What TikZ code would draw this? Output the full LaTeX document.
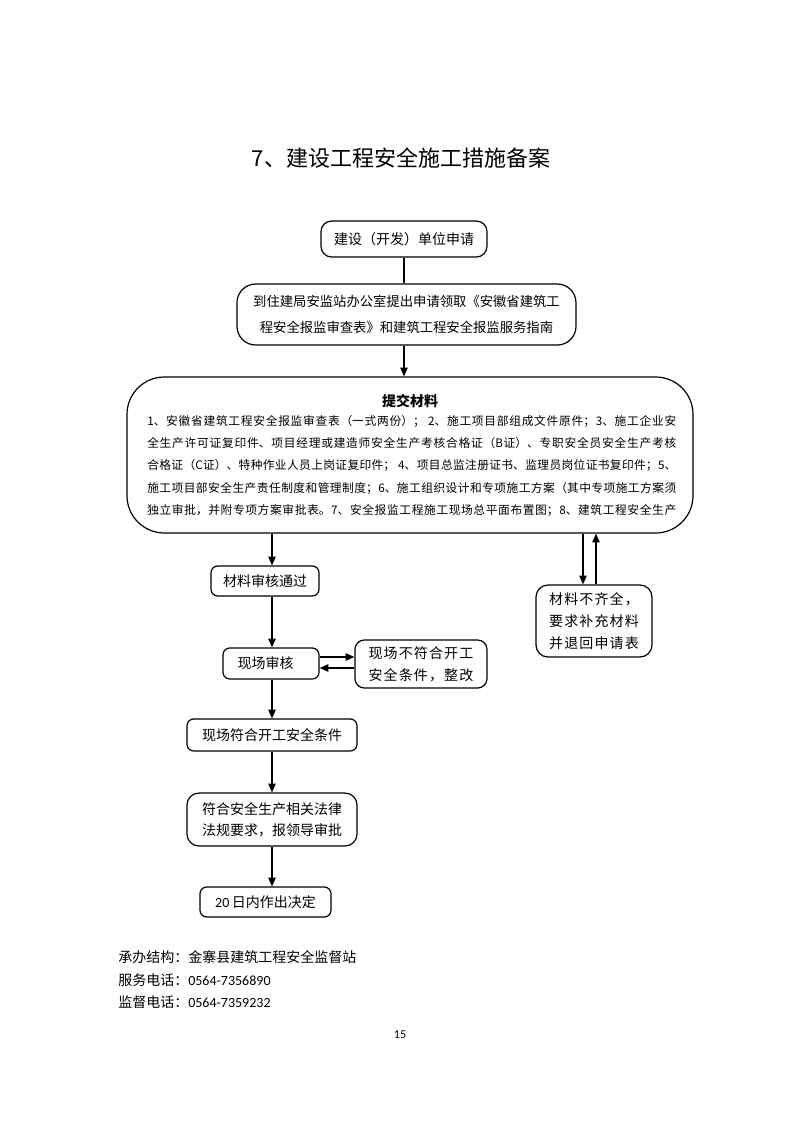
\documentclass[tikz,border=0pt]{standalone}
\usepackage{fontspec}
\setmainfont{Noto Sans CJK SC}
\newfontfamily\latinf{Carlito}
\newfontfamily\spaced[LetterSpace=8]{Noto Sans CJK SC}
\usetikzlibrary{arrows.meta}
\XeTeXlinebreaklocale "zh"
\XeTeXlinebreakskip=0pt plus 1pt
\tikzset{
  box/.style={draw, line width=0.9pt, rounded corners=5pt, inner sep=0pt, align=center,
    font=\fontsize{10.5}{16.5}\selectfont},
  arr/.style={line width=0.9pt, -{Triangle[length=6.5pt,width=5.5pt]}},
  ln/.style={line width=0.9pt},
  txt/.style={inner sep=0pt, font=\fontsize{10.5}{16.5}\selectfont}
}
\begin{document}
\begin{tikzpicture}[x=0.75pt,y=-0.75pt]
\useasboundingbox (0,0) rectangle (793,1122);
% title
\node[inner sep=0pt, font=\fontsize{16.5}{20}\selectfont] (title) at (401,158) {7、建设工程安全施工措施备案};
% boxes
\node[box, rounded corners=8pt, minimum width=124.5pt, minimum height=27pt] (b1) at (404,239) {建设（开发）单位申请};
\node[box, rounded corners=14pt, minimum width=254.25pt, minimum height=45.75pt,
  font=\fontsize{10}{19}\selectfont] (b2) at (406.5,314.5)
  {到住建局安监站办公室提出申请领取《安徽省建筑工\\程安全报监审查表》和建筑工程安全报监服务指南};
\node[draw, ln, rounded corners=28pt, minimum width=424.5pt, minimum height=117pt, inner sep=0pt] (b3) at (410,455) {};
\node[txt, font=\fontsize{10.5}{14}\selectfont\bfseries] (b3t) at (410,401) {提交材料};
\node[inner sep=0pt, anchor=base west, font=\fontsize{8.8}{16.8}\selectfont] (b3b) at (147,425)
  {\parbox[t]{396.75pt}{\parfillskip=0pt
  1、安徽省建筑工程安全报监审查表（一式两份）； 2、施工项目部组成文件原件；3、施工企业安\linebreak
  全生产许可证复印件、项目经理或建造师安全生产考核合格证（B证）、专职安全员安全生产考核\linebreak
  合格证（C证）、特种作业人员上岗证复印件； 4、项目总监注册证书、监理员岗位证书复印件；5、\linebreak
  施工项目部安全生产责任制度和管理制度；6、施工组织设计和专项施工方案（其中专项施工方案须\linebreak
  独立审批，并附专项方案审批表。7、安全报监工程施工现场总平面布置图；8、建筑工程安全生产\par}};
\node[box, minimum width=81pt, minimum height=22.5pt] (b4) at (265,581) {材料审核通过};
\node[box, rounded corners=9pt, minimum width=87pt, minimum height=54pt, align=left,
  font=\spaced\fontsize{10.5}{16.5}\selectfont] (b5) at (594,621)
  {材料不齐全，\\要求补充材料\\并退回申请表};
\node[box, minimum width=72pt, minimum height=23.25pt] (b6) at (271,663.5) {现场审核\hspace{8pt}};
\node[box, rounded corners=7pt, minimum width=99pt, minimum height=36pt, align=left,
  font=\spaced\fontsize{10.5}{16.5}\selectfont] (b7) at (421,664)
  {现场不符合开工\\安全条件，整改};
\node[box, minimum width=127.5pt, minimum height=24pt] (b8) at (272,735) {现场符合开工安全条件};
\node[box, rounded corners=9pt, minimum width=127.5pt, minimum height=39.75pt,
  font=\fontsize{10.5}{15.5}\selectfont] (b9) at (272,819.5)
  {符合安全生产相关法律\\法规要求，报领导审批};
\node[box, minimum width=98.25pt, minimum height=22.5pt] (b10) at (265.5,902) {{\latinf 20}\,日内作出决定};
% connectors
\coordinate (colx) at (272,0);
\coordinate (dx) at (583,0);
\coordinate (ux) at (596,0);
\coordinate (ya) at (0,657);
\coordinate (yb) at (0,668);
\draw[ln] (b1.south) -- (b1.south |- b2.north);
\draw[arr] (b2.south -| b1.south) -- (b3.north -| b1.south);
\draw[arr] (b3.south -| colx) -- (b4.north -| colx);
\draw[arr] (b3.south -| dx) -- (b5.north -| dx);
\draw[arr] (b5.north -| ux) -- (b3.south -| ux);
\draw[arr] (b4.south -| colx) -- (b6.north -| colx);
\draw[arr] (b6.east |- ya) -- (b7.west |- ya);
\draw[arr] (b7.west |- yb) -- (b6.east |- yb);
\draw[arr] (b6.south -| colx) -- (b8.north -| colx);
\draw[arr] (b8.south -| colx) -- (b9.north -| colx);
\draw[arr] (b9.south -| colx) -- (b10.north -| colx);
% footer
\node[txt, anchor=west] (f1) at (118,957) {承办结构：金寨县建筑工程安全监督站};
\node[txt, anchor=west] (f2) at (118,980) {服务电话：{\latinf 0564-7356890}};
\node[txt, anchor=west] (f3) at (118,1002) {监督电话：{\latinf 0564-7359232}};
\node[inner sep=0pt, font=\latinf\fontsize{9}{11}\selectfont] (pg) at (400,1035) {15};
\end{tikzpicture}
\end{document}
